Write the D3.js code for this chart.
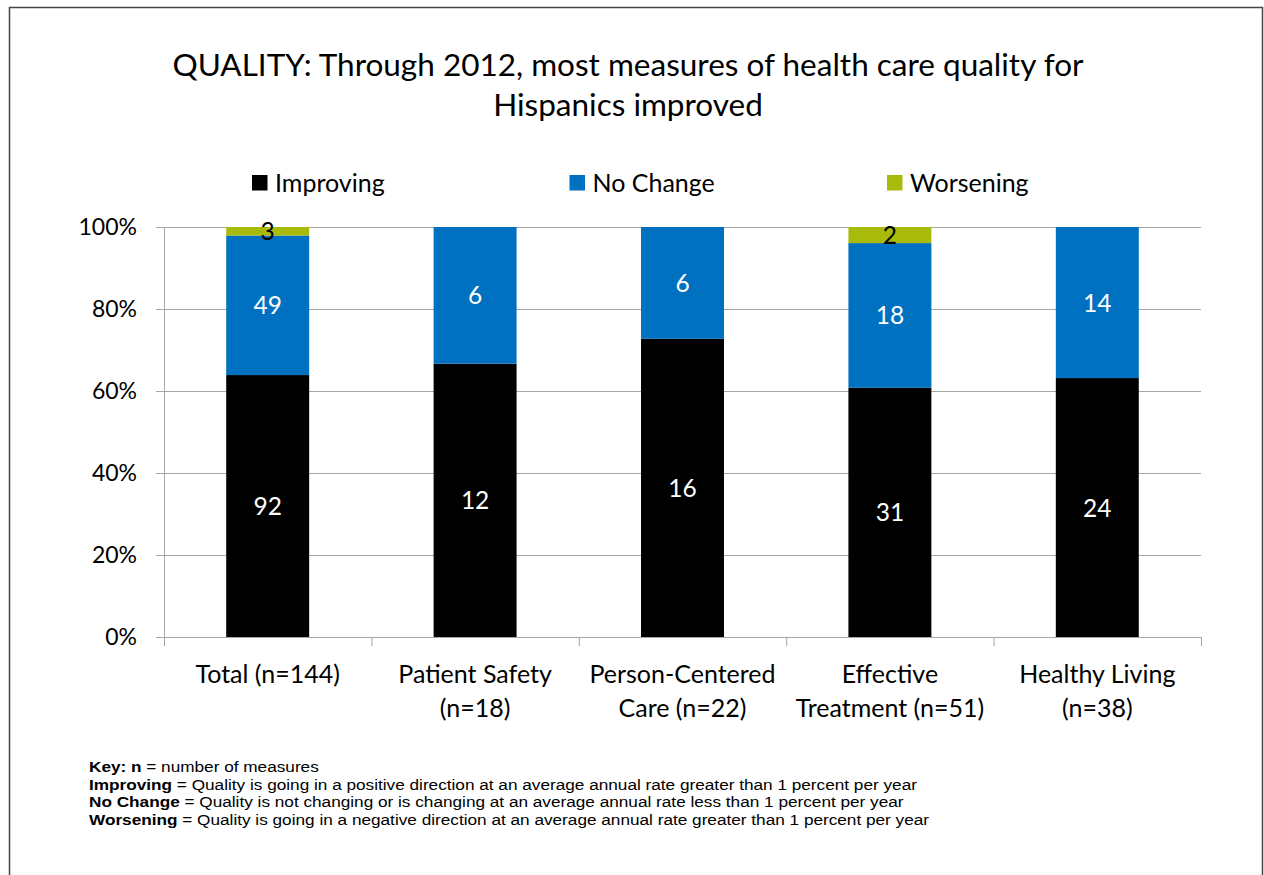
<!DOCTYPE html>
<html>
<head>
<meta charset="utf-8">
<script src="https://cdn.jsdelivr.net/npm/d3@7"></script>
<style>
  body { margin: 0; background: #fff; }
  svg text { font-family: Lato, "Open Sans", sans-serif; }
  .key text { font-family: "Liberation Sans", Arial, sans-serif; }
</style>
</head>
<body>
<div id="chart"></div>
<script>
// chart data
var categories = [["Total (n=144)"], ["Patient Safety", "(n=18)"], ["Person-Centered", "Care (n=22)"], ["Effective", "Treatment (n=51)"], ["Healthy Living", "(n=38)"]];
var seriesNames = ["Improving", "No Change", "Worsening"];
var improving = [92, 12, 16, 31, 24];
var noChange = [49, 6, 6, 18, 14];
var worsening = [3, 0, 0, 2, 0];
var yTicks = [0, 0.2, 0.4, 0.6, 0.8, 1];
var colors = ["#000000", "#0070C0", "#A8BA0A"];
var labelColors = ["#ffffff", "#ffffff", "#000000"];
var keyLines = [
  ["Key: n", " = number of measures"],
  ["Improving", " = Quality is going in a positive direction at an average annual rate greater than 1 percent per year"],
  ["No Change", " = Quality is not changing or is changing at an average annual rate less than 1 percent per year"],
  ["Worsening", " = Quality is going in a negative direction at an average annual rate greater than 1 percent per year"]
];

var W = 1264, H = 875;
var margin = {top: 227, right: 63, bottom: 238, left: 164},
    width = W - margin.left - margin.right,
    height = H - margin.top - margin.bottom;

var svg = d3.select("#chart").append("svg")
    .attr("width", W)
    .attr("height", H);

// outer frame
svg.append("rect")
  .attr("x", 9.5).attr("y", 7.5)
  .attr("width", 1253).attr("height", 880)
  .attr("fill", "none")
  .attr("stroke", "#444")
  .attr("stroke-width", 1.5);

// title
svg.append("text")
  .attr("x", 628).attr("y", 76)
  .attr("text-anchor", "middle")
  .style("font-size", "31.5px")
  .text("QUALITY: Through 2012, most measures of health care quality for");
svg.append("text")
  .attr("x", 628).attr("y", 116)
  .attr("text-anchor", "middle")
  .style("font-size", "31.5px")
  .text("Hispanics improved");

var g = svg.append("g")
  .attr("transform", "translate(" + margin.left + "," + margin.top + ")");

// stacked table
var rows = categories.map(function(c, i) {
  var total = improving[i] + noChange[i] + worsening[i];
  return {cat: c.join(" "), vals: [improving[i], noChange[i], worsening[i]], total: total};
});

var x = d3.scaleBand()
  .domain(rows.map(function(d) { return d.cat; }))
  .range([0, width])
  .paddingInner(0.6)
  .paddingOuter(0.3);

var y = d3.scaleLinear()
  .domain([0, 1])
  .range([height, 0]);

// gridlines
g.append("g")
  .selectAll("line")
  .data(yTicks)
  .enter().append("line")
    .attr("x1", -8).attr("x2", width)
    .attr("y1", function(d) { return y(d) + 0.5; })
    .attr("y2", function(d) { return y(d) + 0.5; })
    .attr("stroke", "#a6a6a6")
    .attr("stroke-width", 1);

// y labels
g.append("g")
  .selectAll("text")
  .data(yTicks)
  .enter().append("text")
    .attr("x", -27)
    .attr("y", function(d) { return y(d) + 8; })
    .attr("text-anchor", "end")
    .style("font-size", "23px")
    .text(function(d) { return Math.round(d * 100) + "%"; });

// y axis line
g.append("line")
  .attr("x1", 0.5).attr("x2", 0.5)
  .attr("y1", 0).attr("y2", height)
  .attr("stroke", "#a6a6a6");

// x axis ticks
var bounds = d3.range(rows.length + 1).map(function(i) { return i * x.step(); });
g.append("g")
  .selectAll("line")
  .data(bounds)
  .enter().append("line")
    .attr("x1", function(d) { return d + 0.5; })
    .attr("x2", function(d) { return d + 0.5; })
    .attr("y1", height).attr("y2", height + 9)
    .attr("stroke", "#a6a6a6");

// stacked segments
var segs = [];
rows.forEach(function(r) {
  var acc = 0;
  r.vals.forEach(function(v, k) {
    segs.push({cat: r.cat, k: k, v: v, y0: acc / r.total, y1: (acc + v) / r.total});
    acc += v;
  });
});

g.selectAll("rect.seg")
  .data(segs.filter(function(d) { return d.v > 0; }))
  .enter().append("rect")
    .attr("class", "seg")
    .attr("x", function(d) { return x(d.cat); })
    .attr("y", function(d) { return y(d.y1); })
    .attr("width", x.bandwidth())
    .attr("height", function(d) { return y(d.y0) - y(d.y1); })
    .attr("fill", function(d) { return colors[d.k]; });

g.selectAll("text.val")
  .data(segs.filter(function(d) { return d.v > 0; }))
  .enter().append("text")
    .attr("class", "val")
    .attr("x", function(d) { return x(d.cat) + x.bandwidth() / 2; })
    .attr("y", function(d) { return (y(d.y0) + y(d.y1)) / 2 + 9; })
    .attr("text-anchor", "middle")
    .attr("fill", function(d) { return labelColors[d.k]; })
    .style("font-size", "24.5px")
    .text(function(d) { return d.v; });

// category labels
var cl = g.selectAll("text.cat")
  .data(rows)
  .enter().append("text")
    .attr("class", "cat")
    .attr("text-anchor", "middle")
    .style("font-size", "25px")
    .attr("x", function(d) { return x(d.cat) + x.bandwidth() / 2; })
    .attr("y", height + 46);
cl.selectAll("tspan")
  .data(function(d, i) { return categories[i]; })
  .enter().append("tspan")
    .attr("x", function() { var p = this.parentNode; return p.getAttribute("x"); })
    .attr("dy", function(d, j) { return j === 0 ? 0 : 34; })
    .text(function(d) { return d; });

// legend
var leg = svg.append("g").selectAll("g")
  .data(seriesNames)
  .enter().append("g")
    .attr("transform", function(d, i) { return "translate(" + (252 + i * 317.5) + ",175)"; });
leg.append("rect")
  .attr("width", 15.5).attr("height", 15.5)
  .attr("fill", function(d, i) { return colors[i]; });
leg.append("text")
  .attr("x", 23).attr("y", 17)
  .style("font-size", "25px")
  .text(function(d) { return d; });

// key notes
var key = svg.append("g").attr("class", "key")
  .attr("transform", "translate(89,0) scale(1.11,1)");
key.selectAll("text")
  .data(keyLines)
  .enter().append("text")
    .attr("x", 0)
    .attr("y", function(d, i) { return 772 + i * 17.7; })
    .style("font-size", "15.5px")
    .each(function(d) {
      var t = d3.select(this);
      t.append("tspan").style("font-weight", "bold").text(d[0]);
      t.append("tspan").text(d[1]);
    });
</script>
</body>
</html>
